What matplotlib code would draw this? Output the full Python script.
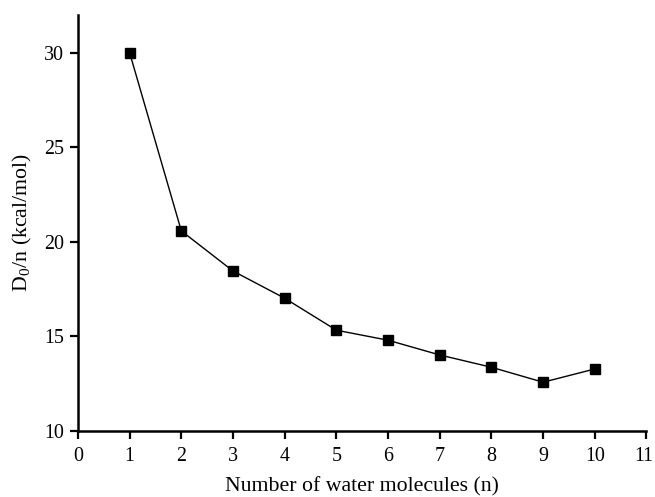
import matplotlib
matplotlib.use("Agg")
import matplotlib.pyplot as plt
from matplotlib.transforms import ScaledTranslation

n_water = [1, 2, 3, 4, 5, 6, 7, 8, 9, 10]
d0_per_n = [30.0, 20.58, 18.46, 17.02, 15.33, 14.8, 14.02, 13.37, 12.58, 13.28]
x_ticks = list(range(0, 12))
y_ticks = [10, 15, 20, 25, 30]

plt.rcParams['font.family'] = ['Liberation Serif', 'DejaVu Serif']
plt.rcParams['mathtext.fontset'] = 'stix'

fig = plt.figure(figsize=(6.55, 4.97), dpi=100)
ax = fig.add_axes([0.119, 0.1328, 0.868, 0.8372])
ax.plot(n_water, d0_per_n, color='black', linewidth=1.0, marker='s',
        markersize=7, markerfacecolor='black', markeredgecolor='black')
ax.set_xlim(0, 11)
ax.set_ylim(10, 32)
ax.set_xticks(x_ticks)
ax.set_yticks(y_ticks)
for s in ['top', 'right']:
    ax.spines[s].set_visible(False)
for s in ['left', 'bottom']:
    ax.spines[s].set_linewidth(1.8)
ax.tick_params(direction='out', length=6, width=1.6, labelsize=14.4)
ax.tick_params(axis='x', pad=5.5)
ax.tick_params(axis='y', pad=4)
ax.set_xlabel('Number of water molecules (n)', fontsize=15.7, labelpad=8)
ax.set_ylabel(r'D$_\mathregular{0}$/n (kcal/mol)', fontsize=15.7, labelpad=7)

fig.canvas.draw()
last = ax.get_xticklabels()[-1]
last.set_transform(last.get_transform() + ScaledTranslation(-3 / 100, 0, fig.dpi_scale_trans))
fig.savefig('out.png', dpi=100)
